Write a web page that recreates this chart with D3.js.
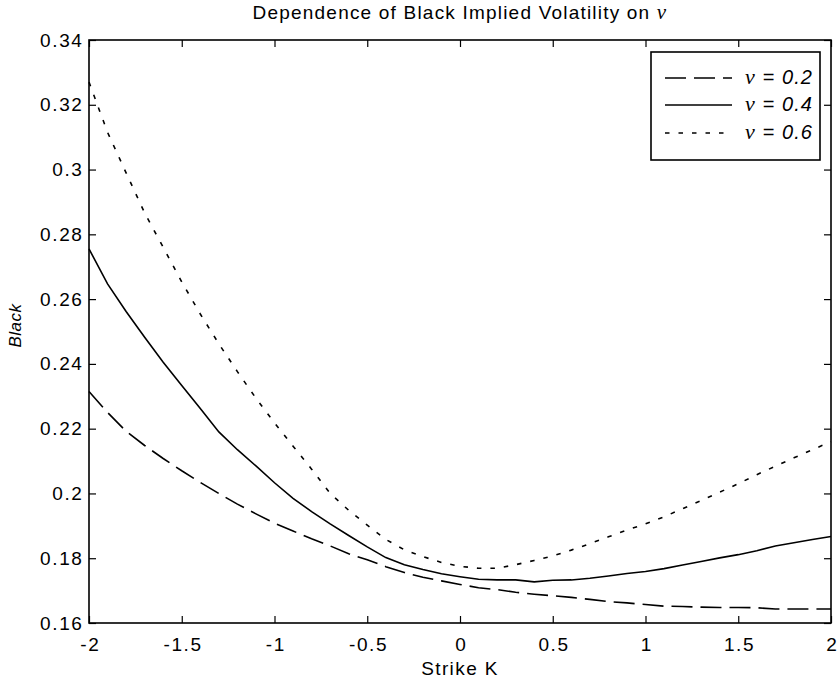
<!DOCTYPE html>
<html>
<head>
<meta charset="utf-8">
<script src="https://cdnjs.cloudflare.com/ajax/libs/d3/7.8.5/d3.min.js"></script>
<style>
  html, body { margin: 0; padding: 0; background: #fff; }
  text { font-family: Arial, "Liberation Sans", Helvetica, sans-serif; fill: #000; }
</style>
</head>
<body>
<svg id="chart" width="838" height="685"></svg>
<script>
// Strike grid and implied volatilities for three vol-of-vol levels
const strikes = d3.range(41).map(i => +(-2 + i * 0.1).toFixed(1));

const volNu02 = [0.2315, 0.2250, 0.2192, 0.2148, 0.2108, 0.2070, 0.2034, 0.2000, 0.1967, 0.1937,
                 0.1908, 0.1884, 0.1860, 0.1838, 0.1814, 0.1795, 0.1774, 0.1756, 0.1741, 0.1730,
                 0.1719, 0.1709, 0.1703, 0.1695, 0.1689, 0.1684, 0.1679, 0.1673, 0.1666, 0.1662,
                 0.1657, 0.1652, 0.1651, 0.1649, 0.1648, 0.1648, 0.1647, 0.1643, 0.1643, 0.1643,
                 0.1643];

const volNu04 = [0.2755, 0.2647, 0.2562, 0.2482, 0.2405, 0.2333, 0.2262, 0.2190, 0.2135, 0.2085,
                 0.2033, 0.1985, 0.1944, 0.1906, 0.1870, 0.1835, 0.1802, 0.1780, 0.1765, 0.1752,
                 0.1743, 0.1735, 0.1733, 0.1733, 0.1727, 0.1732, 0.1733, 0.1738, 0.1745, 0.1753,
                 0.1759, 0.1768, 0.1779, 0.1790, 0.1801, 0.1811, 0.1823, 0.1838, 0.1848, 0.1858,
                 0.1867];

const volNu06 = [0.3270, 0.3115, 0.2990, 0.2866, 0.2760, 0.2653, 0.2554, 0.2462, 0.2376, 0.2294,
                 0.2218, 0.2146, 0.2075, 0.2000, 0.1948, 0.1902, 0.1858, 0.1826, 0.1805, 0.1787,
                 0.1775, 0.1769, 0.1769, 0.1780, 0.1793, 0.1807, 0.1825, 0.1845, 0.1866, 0.1887,
                 0.1906, 0.1928, 0.1953, 0.1978, 0.2004, 0.2030, 0.2058, 0.2084, 0.2110, 0.2135,
                 0.2160];

const seriesNames = ["0.2", "0.4", "0.6"];
const xTicks = [-2, -1.5, -1, -0.5, 0, 0.5, 1, 1.5, 2];
const yTicks = [0.16, 0.18, 0.2, 0.22, 0.24, 0.26, 0.28, 0.3, 0.32, 0.34];

const series = [
  { name: seriesNames[0], values: volNu02, dash: "21,8" },
  { name: seriesNames[1], values: volNu04, dash: null },
  { name: seriesNames[2], values: volNu06, dash: "4.5,9" }
];

const svg = d3.select("#chart");
const plot = { left: 89, right: 831, top: 40, bottom: 623 };

const x = d3.scaleLinear().domain([-2, 2]).range([plot.left, plot.right]);
const y = d3.scaleLinear().domain([0.16, 0.34]).range([plot.bottom, plot.top]);

const tickFont = 19;
const tickSpacing = 1.6;
const fmt = d => String(+d.toFixed(2));

// Bottom axis with inward ticks
const gx = svg.append("g")
  .attr("transform", `translate(0,${plot.bottom})`)
  .call(d3.axisBottom(x).tickValues(xTicks).tickFormat(fmt).tickSize(-7).tickPadding(15));
// Left axis with inward ticks
const gy = svg.append("g")
  .attr("transform", `translate(${plot.left},0)`)
  .call(d3.axisLeft(y).tickValues(yTicks).tickFormat(fmt).tickSize(-7).tickPadding(5.5));
// Mirrored ticks on top and right
const gt = svg.append("g")
  .attr("transform", `translate(0,${plot.top})`)
  .call(d3.axisTop(x).tickValues(xTicks).tickFormat("").tickSize(-7));
const gr = svg.append("g")
  .attr("transform", `translate(${plot.right},0)`)
  .call(d3.axisRight(y).tickValues(yTicks).tickFormat("").tickSize(-7));

[gx, gy, gt, gr].forEach(g => {
  g.select(".domain").remove();
  g.selectAll(".tick line").attr("stroke", "#000").attr("stroke-width", 1.2);
  g.selectAll(".tick text")
    .style("font-family", "Arial, 'Liberation Sans', sans-serif")
    .style("font-size", tickFont + "px")
    .style("letter-spacing", tickSpacing + "px")
    .attr("fill", "#000");
});
gx.selectAll(".tick text").attr("dy", "0.71em").attr("dx", tickSpacing / 2);

// Axes box
svg.append("rect")
  .attr("x", plot.left).attr("y", plot.top)
  .attr("width", plot.right - plot.left).attr("height", plot.bottom - plot.top)
  .attr("fill", "none").attr("stroke", "#000").attr("stroke-width", 1.6);

// Curves
const line = d3.line()
  .x((d, i) => x(strikes[i]))
  .y(d => y(d));

svg.append("g")
  .selectAll("path.curve")
  .data(series)
  .join("path")
  .attr("class", "curve")
  .attr("d", d => line(d.values))
  .attr("fill", "none")
  .attr("stroke", "#000")
  .attr("stroke-width", 1.6)
  .attr("stroke-dasharray", d => d.dash);

// Title
const title = svg.append("text")
  .attr("x", (plot.left + plot.right) / 2)
  .attr("y", 19)
  .attr("text-anchor", "middle")
  .style("font-size", "19px")
  .style("letter-spacing", "1.2px");
title.append("tspan").text("Dependence of Black Implied Volatility on ");
title.append("tspan")
  .style("font-family", "'Liberation Serif', 'Times New Roman', serif")
  .style("font-style", "italic")
  .style("font-size", "21px")
  .text("ν");

// Axis labels
svg.append("text")
  .attr("x", (plot.left + plot.right) / 2)
  .attr("y", 675)
  .attr("text-anchor", "middle")
  .style("font-size", "19px")
  .style("letter-spacing", "1.4px")
  .text("Strike K");

svg.append("text")
  .attr("transform", `translate(21,${(plot.top + plot.bottom) / 2 - 6}) rotate(-90)`)
  .attr("text-anchor", "middle")
  .style("font-size", "17px")
  .style("font-style", "italic")
  .style("letter-spacing", "0.5px")
  .text("Black");

// Legend
const legend = { x: 651, y: 52, w: 169, h: 108 };
const lg = svg.append("g");
lg.append("rect")
  .attr("x", legend.x).attr("y", legend.y)
  .attr("width", legend.w).attr("height", legend.h)
  .attr("fill", "#fff").attr("stroke", "#000").attr("stroke-width", 1.6);

const rowY = [78, 105, 133];
series.forEach((s, i) => {
  lg.append("line")
    .attr("x1", legend.x + 14).attr("x2", legend.x + 81)
    .attr("y1", rowY[i]).attr("y2", rowY[i])
    .attr("stroke", "#000").attr("stroke-width", 1.6)
    .attr("stroke-dasharray", s.dash);
  const t = lg.append("text")
    .attr("x", legend.x + 94)
    .attr("y", rowY[i] + 6)
    .style("font-size", "20px")
    .style("font-style", "italic")
    .style("letter-spacing", "1.1px");
  t.append("tspan")
    .style("font-family", "'Liberation Serif', 'Times New Roman', serif")
    .style("font-size", "22px")
    .text("ν");
  t.append("tspan").text(" = " + s.name);
});
</script>
</body>
</html>
